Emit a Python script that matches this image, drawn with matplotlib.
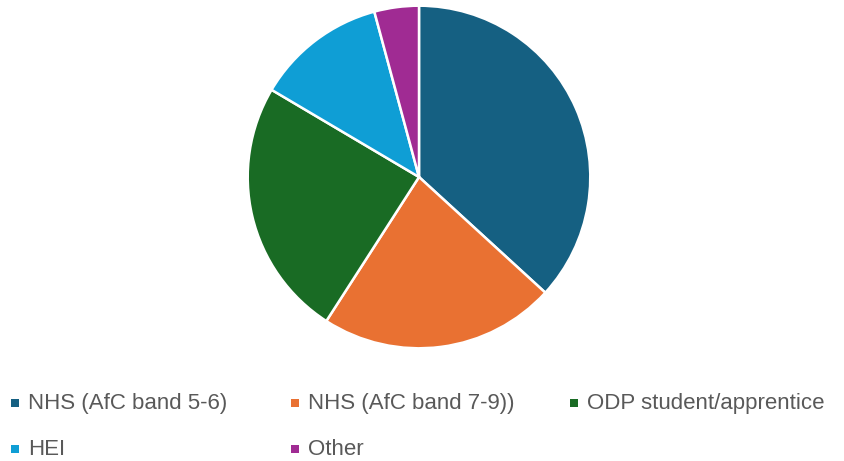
import matplotlib
matplotlib.use('Agg')
import matplotlib.pyplot as plt
import matplotlib.patches as mpatches

# ── Data ──────────────────────────────────────────────────────────────────────
labels = ['NHS (AfC band 5-6)', 'NHS (AfC band 7-9))', 'ODP student/apprentice',
          'HEI', 'Other']
shares = [36.8, 22.3, 24.4, 12.3, 4.2]
colors = ['#156082', '#E97132', '#196B24', '#0F9ED5', '#A02B93']

# ── Figure ────────────────────────────────────────────────────────────────────
W, H = 844, 461
fig = plt.figure(figsize=(W / 100, H / 100), dpi=100)

cx, cy, r = 419, 177, 173
ax = fig.add_axes([(cx - r) / W, (H - cy - r) / H, 2 * r / W, 2 * r / H])
ax.pie(shares, colors=colors, startangle=90, counterclock=False, radius=1,
       wedgeprops=dict(edgecolor='white', linewidth=1.8))
ax.set_xlim(-1.01, 1.01)
ax.set_ylim(-1.01, 1.01)
ax.set_aspect('equal')
ax.axis('off')

# ── Legend (manual placement, 3 columns x 2 rows) ────────────────────────────
col_x = [11, 291, 570]      # square left edges (px)
row_y = [403, 449]          # square centres (px from top)
sq = 8
for i, (lab, col) in enumerate(zip(labels, colors)):
    x = col_x[i % 3]
    y = row_y[i // 3]
    fig.patches.append(mpatches.Rectangle(
        (x / W, (H - y - sq / 2) / H), sq / W, sq / H,
        transform=fig.transFigure, facecolor=col, edgecolor='none'))
    fig.text((x + 17) / W, (H - y - 6) / H, lab, fontsize=16, color='#595959',
             va='baseline', ha='left', family='Liberation Sans')

fig.savefig('out.png', dpi=100)
